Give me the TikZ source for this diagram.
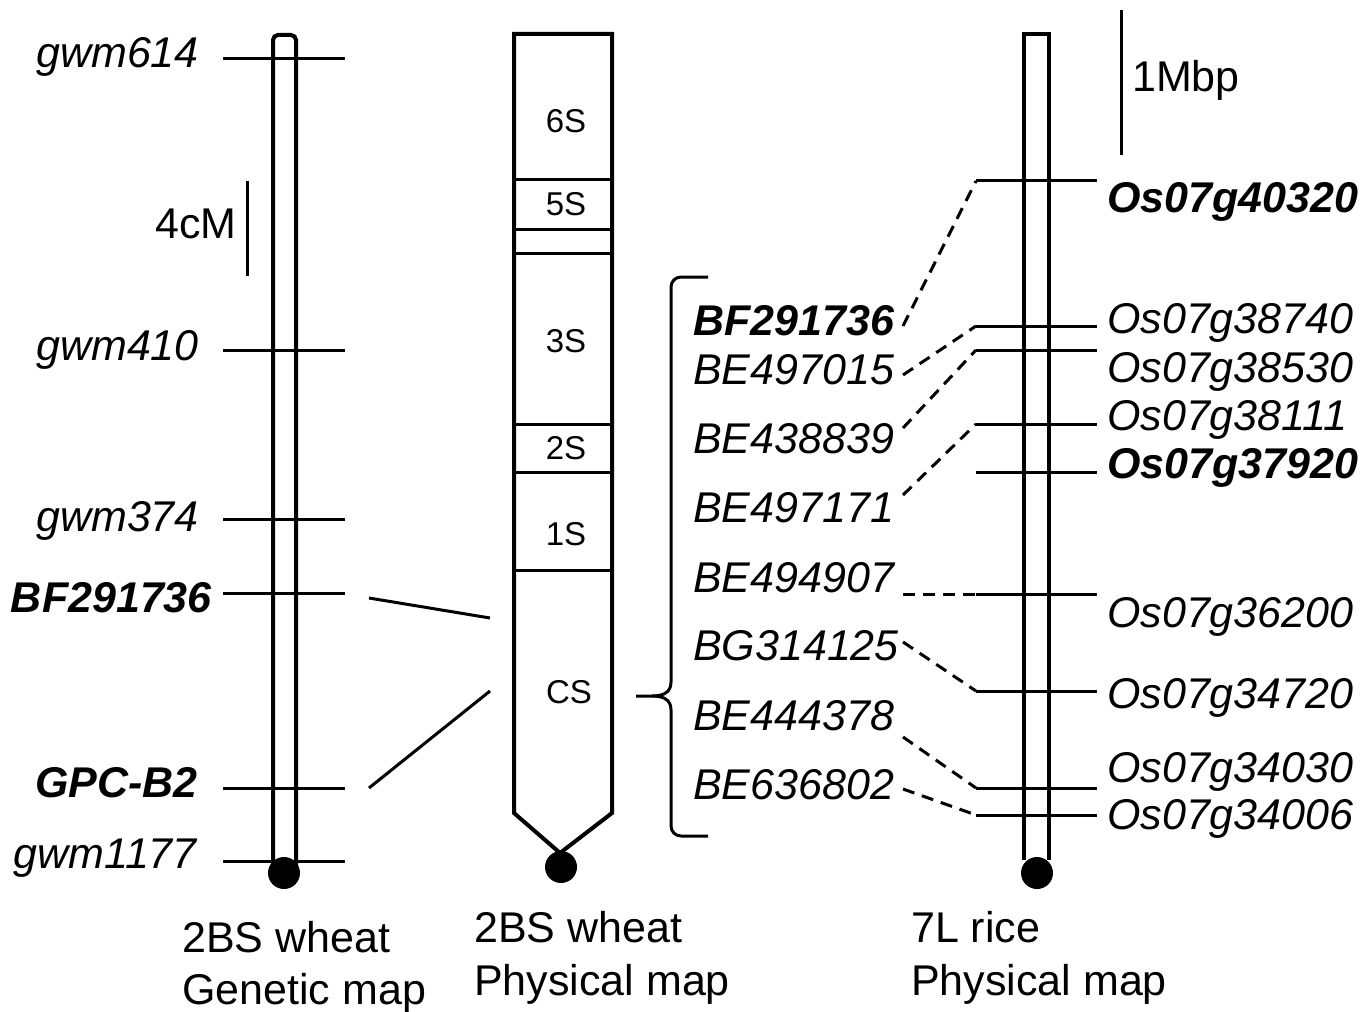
\documentclass[tikz,border=0pt]{standalone}
\usepackage{fontspec}
\setmainfont{Liberation Sans}
\begin{document}
\begin{tikzpicture}[x=1pt,y=-1pt,
  chrom/.style={line width=4pt},
  mk/.style={line width=3pt},
  dsh/.style={line width=3pt,dash pattern=on 12pt off 8pt},
  lbl/.style={inner sep=0pt,font=\fontsize{43}{52}\selectfont},
  band/.style={inner sep=0pt,font=\fontsize{33}{40}\selectfont}]
\useasboundingbox (0,0) rectangle (1372,1011);
% ---------- genetic map ----------
\draw[chrom,rounded corners=5pt] (273,866) -- (273,35) -- (296,35) -- (296,866);
\fill (284,873) circle (16);
\foreach \y in {59,350,519,593,788,861}{\draw[mk] (223,\y) -- (345,\y);}
\node[lbl,anchor=base east,font=\fontsize{43}{52}\selectfont\itshape] (g1) at (199,68) {gwm614};
\node[lbl,anchor=base east,font=\fontsize{43}{52}\selectfont\itshape] (g2) at (199,360) {gwm410};
\node[lbl,anchor=base east,font=\fontsize{43}{52}\selectfont\itshape] (g3) at (199,531) {gwm374};
\node[lbl,anchor=base east,font=\fontsize{43}{52}\selectfont\bfseries\itshape] (g4) at (212,612) {BF291736};
\node[lbl,anchor=base east,font=\fontsize{43}{52}\selectfont\bfseries\itshape] (g5) at (198,797) {GPC-B2};
\node[lbl,anchor=base east,font=\fontsize{43}{52}\selectfont\itshape] (g6) at (197,868) {gwm1177};
% 4cM scale
\coordinate (s1a) at (247,181); \coordinate (s1b) at (247,276);
\draw[mk] (s1a) -- (s1b);
\node[lbl,anchor=base east] (s1) at (237,238) {4cM};
% connectors genetic -> physical
\coordinate (c1a) at (369,598); \coordinate (c1b) at (490,618);
\coordinate (c2a) at (369,788); \coordinate (c2b) at (490,691);
\draw[mk] (c1a) -- (c1b);
\draw[mk] (c2a) -- (c2b);
% ---------- wheat physical map ----------
\draw[chrom] (560,853) -- (514,813) -- (514,34) -- (612,34) -- (612,813) -- cycle;
\foreach \y in {180,229,253,424,472,570}{\draw[mk] (514,\y) -- (612,\y);}
\fill (561,867) circle (16);
\node[band] (b6) at (566,121) {6S};
\node[band] (b5) at (566,204) {5S};
\node[band] (b3) at (566,341) {3S};
\node[band] (b2) at (566,448) {2S};
\node[band] (b1) at (566,534) {1S};
\node[band] (bc) at (569,692) {CS};
% brace
\draw[mk] (708,277) -- (681,277) to[out=180,in=90] (671,287) -- (671,682)
   .. controls (671,692) and (664,696) .. (652,696) -- (636,696);
\draw[mk] (652,696) .. controls (664,696) and (671,700) .. (671,710) -- (671,826)
   to[out=-90,in=180] (681,836) -- (708,836);
% wheat marker labels
\node[lbl,anchor=base west,font=\fontsize{43}{52}\selectfont\bfseries\itshape] (m1) at (693,335) {BF291736};
\node[lbl,anchor=base west,font=\fontsize{43}{52}\selectfont\itshape] (m2) at (693,384) {BE497015};
\node[lbl,anchor=base west,font=\fontsize{43}{52}\selectfont\itshape] (m3) at (693,453) {BE438839};
\node[lbl,anchor=base west,font=\fontsize{43}{52}\selectfont\itshape] (m4) at (693,522) {BE497171};
\node[lbl,anchor=base west,font=\fontsize{43}{52}\selectfont\itshape] (m5) at (693,592) {BE494907};
\node[lbl,anchor=base west,font=\fontsize{43}{52}\selectfont\itshape] (m6) at (693,660) {BG314125};
\node[lbl,anchor=base west,font=\fontsize{43}{52}\selectfont\itshape] (m7) at (693,730) {BE444378};
\node[lbl,anchor=base west,font=\fontsize{43}{52}\selectfont\itshape] (m8) at (693,799) {BE636802};
% ---------- rice physical map ----------
\draw[chrom] (1024,860) -- (1024,34) -- (1049,34) -- (1049,860);
\fill (1037,873) circle (16);
\foreach \n/\y in {1/181,2/326,3/350,4/424,5/472,6/594,7/691,8/788,9/815}{
  \coordinate (r\n) at (976,\y);
  \draw[mk] (r\n) -- (1097,\y);}
\node[lbl,anchor=base west,font=\fontsize{43}{52}\selectfont\bfseries\itshape] (o1) at (1107,212) {Os07g40320};
\node[lbl,anchor=base west,font=\fontsize{43}{52}\selectfont\itshape] (o2) at (1107,333) {Os07g38740};
\node[lbl,anchor=base west,font=\fontsize{43}{52}\selectfont\itshape] (o3) at (1107,382) {Os07g38530};
\node[lbl,anchor=base west,font=\fontsize{43}{52}\selectfont\itshape] (o4) at (1107,430) {Os07g38111};
\node[lbl,anchor=base west,font=\fontsize{43}{52}\selectfont\bfseries\itshape] (o5) at (1107,478) {Os07g37920};
\node[lbl,anchor=base west,font=\fontsize{43}{52}\selectfont\itshape] (o6) at (1107,627) {Os07g36200};
\node[lbl,anchor=base west,font=\fontsize{43}{52}\selectfont\itshape] (o7) at (1107,708) {Os07g34720};
\node[lbl,anchor=base west,font=\fontsize{43}{52}\selectfont\itshape] (o8) at (1107,782) {Os07g34030};
\node[lbl,anchor=base west,font=\fontsize{43}{52}\selectfont\itshape] (o9) at (1107,829) {Os07g34006};
% 1Mbp scale
\coordinate (s2a) at (1121,10); \coordinate (s2b) at (1121,155);
\draw[mk] (s2a) -- (s2b);
\node[lbl,anchor=base west] (s2) at (1132,92) {1Mbp};
% dashed connectors
\coordinate (d1) at (903,326); \coordinate (d2) at (903,375);
\coordinate (d3) at (903,428); \coordinate (d4) at (903,495);
\coordinate (d5) at (903,594); \coordinate (d6) at (903,642);
\coordinate (d7) at (903,737); \coordinate (d8) at (903,789);
\draw[dsh] (d1) -- (r1);
\draw[dsh] (d2) -- (r2);
\draw[dsh] (d3) -- (r3);
\draw[dsh] (d4) -- (r4);
\draw[dsh] (d5) -- (r6);
\draw[dsh] (d6) -- (r7);
\draw[dsh] (d7) -- (r8);
\draw[dsh] (d8) -- (r9);
% ---------- bottom labels ----------
\node[lbl,anchor=base west] (t1a) at (182,952) {2BS wheat};
\node[lbl,anchor=base west] (t1b) at (182,1004) {Genetic map};
\node[lbl,anchor=base west] (t2a) at (474,942) {2BS wheat};
\node[lbl,anchor=base west] (t2b) at (474,995) {Physical map};
\node[lbl,anchor=base west] (t3a) at (911,942) {7L rice};
\node[lbl,anchor=base west] (t3b) at (911,995) {Physical map};
\end{tikzpicture}
\end{document}
